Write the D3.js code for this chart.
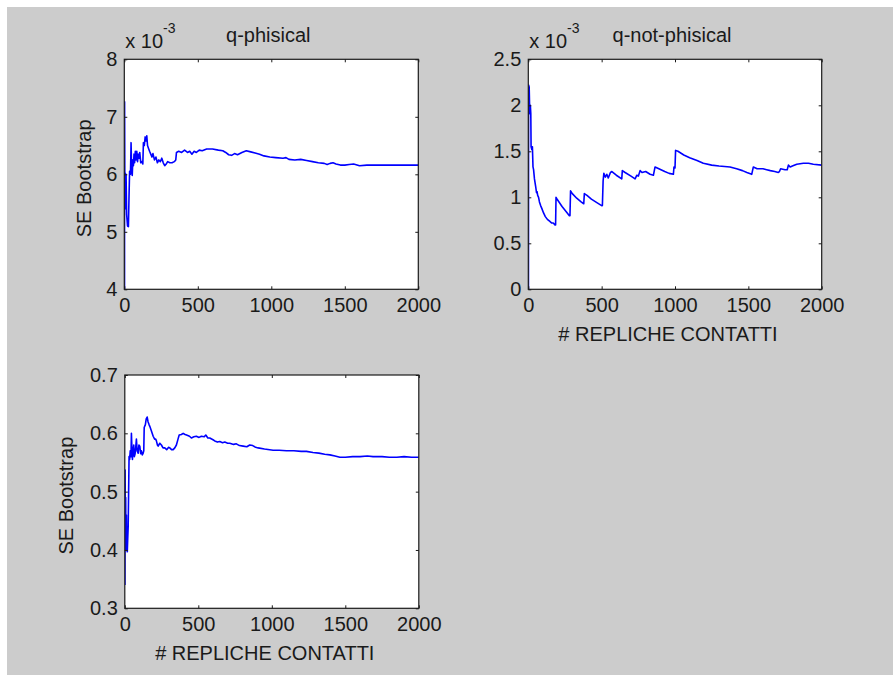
<!DOCTYPE html>
<html>
<head>
<meta charset="utf-8">
<script src="https://cdn.jsdelivr.net/npm/d3@7"></script>
<style>
  body { margin: 0; background: #ffffff; }
  svg text { font-family: "Liberation Sans", Arial, Helvetica, sans-serif; fill: #1a1a1a; }
</style>
</head>
<body>
<svg id="fig" width="893" height="675"></svg>
<script>
// ---- data -------------------------------------------------------------
// number of bootstrap replicates (x) and bootstrap standard error (y)

// q-phisical, SE in units of 1e-3
const physN  = [1, 2, 4, 6, 9, 12, 16, 22, 28, 32, 36, 42, 46, 50, 54, 58, 62, 66, 70, 75, 80, 85, 90, 95, 100, 105, 112, 120, 126, 130, 136, 142, 148, 153, 158, 165, 172, 180, 188, 195, 205, 215, 225, 235, 245, 255, 265, 275, 285, 295, 310, 325, 340, 350, 355, 370, 390, 410, 430, 445, 460, 475, 490, 510, 530, 560, 600, 640, 670, 690, 710, 730, 750, 770, 800, 830, 860, 890, 920, 950, 990, 1030, 1080, 1100, 1120, 1160, 1200, 1240, 1280, 1320, 1360, 1380, 1400, 1420, 1440, 1470, 1500, 1530, 1560, 1600, 1650, 1700, 1800, 1900, 2000];
const physSE = [0, 7.26, 5.5, 6.02, 5.4, 6.0, 5.3, 5.1, 5.09, 5.6, 6.05, 6.0, 6.55, 6.1, 5.98, 6.25, 6.15, 6.35, 6.2, 6.4, 6.25, 6.4, 6.22, 6.35, 6.28, 6.38, 6.2, 6.22, 6.18, 6.55, 6.5, 6.65, 6.58, 6.67, 6.5, 6.45, 6.4, 6.35, 6.3, 6.36, 6.25, 6.3, 6.2, 6.25, 6.22, 6.28, 6.2, 6.15, 6.18, 6.22, 6.2, 6.2, 6.22, 6.25, 6.38, 6.4, 6.38, 6.42, 6.38, 6.4, 6.35, 6.4, 6.38, 6.42, 6.41, 6.44, 6.44, 6.42, 6.41, 6.38, 6.34, 6.33, 6.36, 6.34, 6.38, 6.41, 6.39, 6.37, 6.35, 6.32, 6.3, 6.29, 6.28, 6.29, 6.26, 6.25, 6.26, 6.24, 6.22, 6.2, 6.19, 6.17, 6.19, 6.2, 6.18, 6.16, 6.16, 6.17, 6.18, 6.15, 6.16, 6.16, 6.16, 6.16, 6.16];

// q-not-phisical, SE in units of 1e-3
const notPhysN  = [1, 2, 6, 10, 14, 17, 19, 24, 28, 32, 36, 42, 50, 56, 60, 64, 70, 76, 84, 92, 104, 116, 130, 145, 160, 170, 182, 186, 189, 200, 230, 260, 280, 284, 288, 300, 330, 360, 378, 382, 400, 430, 470, 500, 505, 510, 515, 525, 535, 545, 560, 570, 600, 637, 641, 660, 700, 728, 740, 750, 762, 775, 800, 830, 853, 864, 890, 930, 960, 989, 993, 1000, 1004, 1020, 1060, 1100, 1150, 1193, 1250, 1300, 1375, 1420, 1460, 1490, 1523, 1534, 1560, 1600, 1625, 1650, 1680, 1704, 1712, 1720, 1750, 1765, 1773, 1785, 1800, 1830, 1875, 1910, 1943, 2000];
const notPhysSE = [0, 2.22, 2.2, 1.91, 2.0, 1.91, 1.55, 1.52, 1.55, 1.33, 1.3, 1.2, 1.12, 1.05, 1.06, 1.02, 1.0, 0.95, 0.91, 0.88, 0.83, 0.79, 0.76, 0.74, 0.72, 0.72, 0.70, 0.70, 1.0, 0.97, 0.9, 0.84, 0.80, 0.80, 1.07, 1.04, 0.99, 0.95, 0.93, 1.04, 1.02, 0.98, 0.94, 0.91, 0.91, 1.18, 1.26, 1.22, 1.25, 1.21, 1.27, 1.28, 1.24, 1.2, 1.29, 1.27, 1.23, 1.2, 1.24, 1.23, 1.29, 1.27, 1.28, 1.25, 1.24, 1.33, 1.31, 1.28, 1.26, 1.25, 1.33, 1.32, 1.51, 1.5, 1.46, 1.43, 1.40, 1.37, 1.35, 1.34, 1.33, 1.31, 1.29, 1.27, 1.25, 1.33, 1.31, 1.31, 1.30, 1.29, 1.28, 1.27, 1.28, 1.31, 1.30, 1.30, 1.35, 1.33, 1.34, 1.36, 1.37, 1.37, 1.36, 1.35];

// third panel, SE
const bootN  = [1, 2, 4, 6, 8, 11, 14, 17, 20, 23, 26, 29, 33, 37, 42, 45, 49, 52, 56, 61, 65, 70, 74, 79, 84, 91, 96, 102, 108, 113, 119, 125, 129, 132, 140, 146, 152, 158, 165, 170, 180, 193, 203, 210, 215, 222, 227, 238, 249, 260, 272, 285, 298, 306, 318, 329, 340, 351, 362, 370, 385, 397, 410, 420, 440, 453, 470, 487, 505, 521, 540, 551, 565, 578, 600, 612, 630, 646, 665, 680, 700, 714, 740, 759, 780, 805, 830, 850, 870, 890, 907, 950, 1009, 1050, 1100, 1150, 1200, 1236, 1280, 1320, 1360, 1395, 1430, 1463, 1500, 1550, 1600, 1650, 1689, 1750, 1800, 1850, 1900, 1950, 2000];
const bootSE = [0.34, 0.537, 0.45, 0.49, 0.40, 0.46, 0.40, 0.397, 0.42, 0.44, 0.50, 0.56, 0.555, 0.57, 0.56, 0.6, 0.57, 0.555, 0.57, 0.58, 0.56, 0.565, 0.575, 0.59, 0.57, 0.566, 0.58, 0.578, 0.565, 0.57, 0.563, 0.566, 0.57, 0.61, 0.615, 0.625, 0.628, 0.62, 0.615, 0.612, 0.605, 0.595, 0.59, 0.59, 0.587, 0.58, 0.578, 0.583, 0.58, 0.575, 0.575, 0.572, 0.576, 0.575, 0.572, 0.572, 0.575, 0.58, 0.59, 0.597, 0.598, 0.6, 0.598, 0.597, 0.595, 0.592, 0.594, 0.595, 0.593, 0.595, 0.594, 0.597, 0.592, 0.592, 0.589, 0.587, 0.585, 0.586, 0.584, 0.585, 0.583, 0.583, 0.581, 0.582, 0.579, 0.578, 0.577, 0.58, 0.579, 0.576, 0.575, 0.573, 0.571, 0.571, 0.57, 0.57, 0.569, 0.569, 0.567, 0.566, 0.564, 0.563, 0.561, 0.559, 0.559, 0.56, 0.56, 0.561, 0.56, 0.56, 0.559, 0.559, 0.56, 0.559, 0.559];

// tick values
const xTicks       = [0, 500, 1000, 1500, 2000];
const physTicks    = [4, 5, 6, 7, 8];
const notPhysTicks = [0, 0.5, 1, 1.5, 2, 2.5];
const bootTicks    = [0.3, 0.4, 0.5, 0.6, 0.7];

// ---- figure ---------------------------------------------------------
const W = 893, H = 675;
const svg = d3.select("#fig");

// figure background
svg.append("rect")
  .attr("x", 7).attr("y", 7)
  .attr("width", W - 7).attr("height", H - 7)
  .attr("fill", "#cccccc");

const panels = [
  { id: "p1", n: physN, se: physSE, ticks: physTicks, domain: [4, 8],
    box: { l: 124.3, t: 59.3, r: 418.3, b: 289.3 },
    title: "q-phisical", exponent: true, ylabel: "SE Bootstrap", xlabel: null },
  { id: "p2", n: notPhysN, se: notPhysSE, ticks: notPhysTicks, domain: [0, 2.5],
    box: { l: 528.3, t: 59.3, r: 821.7, b: 289.3 },
    title: "q-not-phisical", exponent: true, ylabel: null, xlabel: "# REPLICHE CONTATTI" },
  { id: "p3", n: bootN, se: bootSE, ticks: bootTicks, domain: [0.3, 0.7],
    box: { l: 124.8, t: 375, r: 418.8, b: 608.3 },
    title: null, exponent: false, ylabel: "SE Bootstrap", xlabel: "# REPLICHE CONTATTI" }
];

const fontSize = 20;
const tickLen = 3;

panels.forEach(p => {
  const { l, t, r, b } = p.box;
  const x = d3.scaleLinear().domain([0, 2000]).range([l, r]);
  const y = d3.scaleLinear().domain(p.domain).range([b, t]);
  const g = svg.append("g");

  // plot area
  g.append("rect")
    .attr("x", l).attr("y", t).attr("width", r - l).attr("height", b - t)
    .attr("fill", "#ffffff");

  g.append("clipPath").attr("id", "clip-" + p.id)
    .append("rect")
    .attr("x", l).attr("y", t).attr("width", r - l).attr("height", b - t);

  const pts = d3.zip(p.n, p.se);
  const line = d3.line().x(d => x(d[0])).y(d => y(d[1]));
  g.append("path")
    .datum(pts)
    .attr("clip-path", "url(#clip-" + p.id + ")")
    .attr("d", line)
    .attr("fill", "none")
    .attr("stroke", "#0000ff")
    .attr("stroke-width", 1.6)
    .attr("stroke-linejoin", "round");

  // axes with inward ticks on all four sides
  const fmt = d => String(d);
  const styleAxis = sel => {
    sel.select(".domain").remove();
    sel.selectAll(".tick line").attr("stroke", "#1a1a1a");
    sel.selectAll(".tick text")
      .attr("font-size", fontSize)
      .attr("font-family", "Liberation Sans, Arial, sans-serif")
      .attr("fill", "#1a1a1a");
  };
  g.append("g").attr("transform", `translate(0,${b})`)
    .call(d3.axisBottom(x).tickValues(xTicks).tickFormat(fmt)
      .tickSizeInner(-tickLen).tickSizeOuter(0).tickPadding(8.5))
    .call(styleAxis);
  g.append("g").attr("transform", `translate(0,${t})`)
    .call(d3.axisTop(x).tickValues(xTicks).tickFormat("")
      .tickSizeInner(-tickLen).tickSizeOuter(0))
    .call(styleAxis);
  g.append("g").attr("transform", `translate(${l},0)`)
    .call(d3.axisLeft(y).tickValues(p.ticks).tickFormat(fmt)
      .tickSizeInner(-tickLen).tickSizeOuter(0).tickPadding(7))
    .call(styleAxis);
  g.append("g").attr("transform", `translate(${r},0)`)
    .call(d3.axisRight(y).tickValues(p.ticks).tickFormat("")
      .tickSizeInner(-tickLen).tickSizeOuter(0))
    .call(styleAxis);

  // frame
  g.append("rect")
    .attr("x", l).attr("y", t).attr("width", r - l).attr("height", b - t)
    .attr("fill", "none").attr("stroke", "#1a1a1a").attr("stroke-width", 1.2);

  const cx = (l + r) / 2;

  if (p.title) {
    g.append("text")
      .attr("x", cx - 3).attr("y", t - 17)
      .attr("text-anchor", "middle")
      .attr("font-size", fontSize)
      .text(p.title);
  }

  if (p.exponent) {
    const ex = g.append("text")
      .attr("x", l + 1).attr("y", t - 11)
      .attr("font-size", fontSize);
    ex.append("tspan").text("x 10");
    ex.append("tspan").attr("dy", -15).attr("font-size", 14).text("-3");
  }

  if (p.ylabel) {
    const labelX = p.id === "p1" ? 91 : 73;
    g.append("text")
      .attr("transform", `translate(${labelX},${(t + b) / 2 + 4}) rotate(-90)`)
      .attr("text-anchor", "middle")
      .attr("font-size", fontSize)
      .text(p.ylabel);
  }

  if (p.xlabel) {
    g.append("text")
      .attr("x", cx - 7).attr("y", b + 52)
      .attr("text-anchor", "middle")
      .attr("font-size", fontSize)
      .text(p.xlabel);
  }
});
</script>
</body>
</html>
